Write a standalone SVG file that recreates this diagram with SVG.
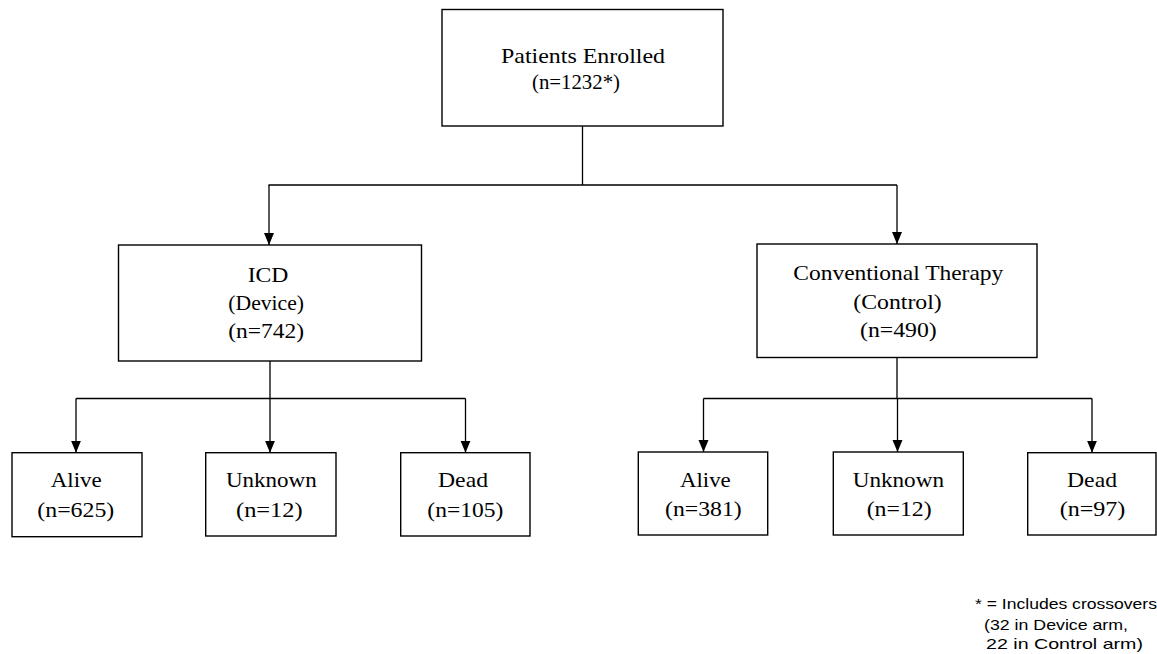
<svg xmlns="http://www.w3.org/2000/svg" width="1157" height="654" viewBox="0 0 1157 654">
<style>
.box{fill:#fff;stroke:#000;stroke-width:1.4}
.conn{fill:none;stroke:#000;stroke-width:1.3}
.t{font-family:"Liberation Serif","Times New Roman",serif;font-size:21px;fill:#000}
.n{font-family:"Liberation Sans",Arial,sans-serif;font-size:14.5px;fill:#000}
</style>
<defs>
<marker id="arr" viewBox="0 0 12 10" markerWidth="12" markerHeight="11" refX="12" refY="5" orient="auto" markerUnits="userSpaceOnUse">
<path d="M0,0 L12,5 L0,10 z" fill="#000"/>
</marker>
</defs>
<rect width="1157" height="654" fill="#fff"/>
<g id="connectors">
<path class="conn" d="M582.5,126 V185 M268.5,185 H897"/>
<path class="conn" d="M269,185 V245" marker-end="url(#arr)"/>
<path class="conn" d="M897,185 V244" marker-end="url(#arr)"/>
<path class="conn" d="M270,361 V398.5 M76,398.5 H465.5"/>
<path class="conn" d="M76,398.5 V452.7" marker-end="url(#arr)"/>
<path class="conn" d="M270,398.5 V452.7" marker-end="url(#arr)"/>
<path class="conn" d="M465.5,398.5 V452.7" marker-end="url(#arr)"/>
<path class="conn" d="M897,357.5 V398.5 M703.5,398.5 H1092"/>
<path class="conn" d="M703.5,398.5 V452" marker-end="url(#arr)"/>
<path class="conn" d="M897.5,398.5 V452" marker-end="url(#arr)"/>
<path class="conn" d="M1092,398.5 V452.7" marker-end="url(#arr)"/>
</g>
<g id="enrolled">
<rect class="box" x="442" y="9.5" width="281" height="116.5"/>
<text class="t" x="501" y="63.3" textLength="164" lengthAdjust="spacingAndGlyphs">Patients Enrolled</text>
<text class="t" x="532" y="89.3" textLength="88" lengthAdjust="spacingAndGlyphs">(n=1232*)</text>
</g>
<g id="icd">
<rect class="box" x="118.5" y="245" width="303" height="116"/>
<text class="t" x="247.7" y="281.7" textLength="40.7" lengthAdjust="spacingAndGlyphs">ICD</text>
<text class="t" x="228.3" y="310" textLength="75.7" lengthAdjust="spacingAndGlyphs">(Device)</text>
<text class="t" x="228.3" y="338" textLength="75.7" lengthAdjust="spacingAndGlyphs">(n=742)</text>
</g>
<g id="control">
<rect class="box" x="757" y="244" width="280" height="113.5"/>
<text class="t" x="793.3" y="280" textLength="210" lengthAdjust="spacingAndGlyphs">Conventional Therapy</text>
<text class="t" x="853.3" y="309" textLength="88.4" lengthAdjust="spacingAndGlyphs">(Control)</text>
<text class="t" x="860" y="336.7" textLength="76.7" lengthAdjust="spacingAndGlyphs">(n=490)</text>
</g>
<g id="icd-alive">
<rect class="box" x="12" y="452.7" width="130" height="84"/>
<text class="t" x="50.7" y="487.3" textLength="51" lengthAdjust="spacingAndGlyphs">Alive</text>
<text class="t" x="37.3" y="516.7" textLength="77" lengthAdjust="spacingAndGlyphs">(n=625)</text>
</g>
<g id="icd-unknown">
<rect class="box" x="205.7" y="452.7" width="130.3" height="83.3"/>
<text class="t" x="226" y="487.3" textLength="90.7" lengthAdjust="spacingAndGlyphs">Unknown</text>
<text class="t" x="236" y="516.7" textLength="66.7" lengthAdjust="spacingAndGlyphs">(n=12)</text>
</g>
<g id="icd-dead">
<rect class="box" x="400.7" y="452.7" width="129.3" height="83.3"/>
<text class="t" x="438" y="487.3" textLength="50" lengthAdjust="spacingAndGlyphs">Dead</text>
<text class="t" x="427.3" y="516.7" textLength="76" lengthAdjust="spacingAndGlyphs">(n=105)</text>
</g>
<g id="control-alive">
<rect class="box" x="638.3" y="452" width="129.4" height="83"/>
<text class="t" x="680" y="487" textLength="50.7" lengthAdjust="spacingAndGlyphs">Alive</text>
<text class="t" x="665" y="516.3" textLength="76.7" lengthAdjust="spacingAndGlyphs">(n=381)</text>
</g>
<g id="control-unknown">
<rect class="box" x="833.3" y="452" width="130" height="83"/>
<text class="t" x="852.7" y="487" textLength="91.3" lengthAdjust="spacingAndGlyphs">Unknown</text>
<text class="t" x="866.7" y="516.3" textLength="65" lengthAdjust="spacingAndGlyphs">(n=12)</text>
</g>
<g id="control-dead">
<rect class="box" x="1027.7" y="452.7" width="128.3" height="82.3"/>
<text class="t" x="1067" y="487" textLength="50" lengthAdjust="spacingAndGlyphs">Dead</text>
<text class="t" x="1059.7" y="516.3" textLength="65.7" lengthAdjust="spacingAndGlyphs">(n=97)</text>
</g>
<g id="footnote">
<text class="n" x="975" y="609" textLength="182" lengthAdjust="spacingAndGlyphs">* = Includes crossovers</text>
<text class="n" x="984" y="629.5" textLength="144" lengthAdjust="spacingAndGlyphs">(32 in Device arm,</text>
<text class="n" x="986" y="648.5" textLength="157" lengthAdjust="spacingAndGlyphs">22 in Control arm)</text>
</g>
</svg>
